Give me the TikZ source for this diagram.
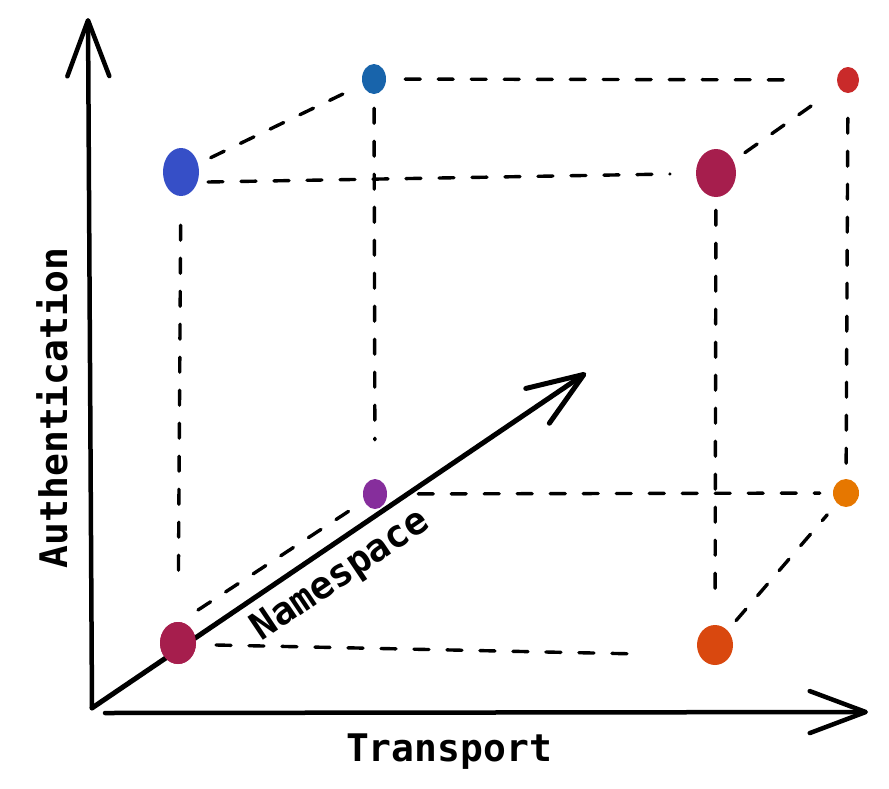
\documentclass[tikz,border=0pt]{standalone}
\usepackage{fontspec}
\setmonofont{DejaVu Sans Mono}
\usepackage{tikz}
\usetikzlibrary{arrows.meta}
\usetikzlibrary{shapes.geometric}

\definecolor{indigo}{HTML}{364FC7}
\definecolor{ocean}{HTML}{1864AB}
\definecolor{brick}{HTML}{C92A2A}
\definecolor{berry}{HTML}{A61E4D}
\definecolor{grape}{HTML}{862E9C}
\definecolor{amber}{HTML}{E67700}
\definecolor{rust}{HTML}{D9480F}

\begin{document}
\begin{tikzpicture}[x=1pt,y=-1pt,
    edge/.style={black, line width=3.4pt, dash pattern=on 15pt off 18pt, line cap=round},
    axis/.style={black, line width=4.5pt, line cap=round, -{Straight Barb[round,length=56pt,width=42pt]}},
    dot/.style={ellipse, inner sep=0pt, draw=none},
    axislabel/.style={font=\ttfamily\bfseries\fontsize{38}{40}\selectfont}]
                  \useasboundingbox (0,0) rectangle (889,788);
                  \coordinate (O) at (92,708);
                  \coordinate (T0) at (105,713);
                  \coordinate (A) at (88,18);
                  \coordinate (T) at (868,712);
                  \coordinate (N) at (586,373);
                  \coordinate (G) at (198,610);

                  % Corners of the cube (front face and back face)
                  \foreach \name/\x/\y/\w/\h/\col in {ftl/181/172/36/48/indigo, btl/374/79/24/30/ocean,
                    btr/848/80/22/26/brick, ftr/716/173/40/48/berry, bbl/375/494/24/30/grape,
                    bbr/846/493/26/28/amber, fbl/178/643/36/42/berry, fbr/715/645/36/40/rust}
                  \node[dot, fill=\col, minimum width=\w pt, minimum height=\h pt] (\name) at (\x,\y) {};

                  % Dashed edges
                  \draw[edge] ([shift={(27,10)}]ftl.center) -- ([shift={(-46,1)}]ftr.center);
                  \draw[edge, shorten <=29pt, shorten >=44pt] (ftl) -- (fbl);
                  \draw[edge, shorten <=14pt, shorten >=22pt] (ftl) -- (btl);
                  \draw[edge, shorten <=19pt, shorten >=47pt] (btl) -- (btr);
                  \draw[edge, shorten <=14pt, shorten >=39pt] (btl) -- (bbl);
                  \draw[edge, shorten <=14pt, shorten >=28pt] (ftr) -- (btr);
                  \draw[edge, shorten <=25pt, shorten >=14pt] (btr) -- (bbr);
                  \draw[edge, shorten <=13pt, shorten >=27pt] (ftr) -- (fbr);
                  \draw[edge, shorten <=31pt, shorten >=13pt] (bbl) -- (bbr);
                  \draw[edge, shorten >=12pt] (G) -- (bbl);
                  \draw[edge] ([shift={(38,2)}]fbl.center) -- ([shift={(-75,9)}]fbr.center);
                  \draw[edge, shorten <=13pt, shorten >=15pt] (fbr) -- (bbr);

                  % Axes
                  \draw[axis] (O) -- (A);
                  \draw[axis] (T0) -- (T);
                  \draw[axis, line width=5pt] (O) -- (N);

                  % Redraw the corner on the namespace axis
                  \node[dot, fill=berry, minimum width=36pt, minimum height=42pt] at (fbl) {};

                  % Axis labels
                  \node[axislabel, rotate=90] (auth) at (52,408) {Authentication};
                  \node[axislabel] (trans) at (449,752) {Transport};
                  \node[axislabel, rotate=33.9] (ns) at (341,576) {Namespace};
              \end{tikzpicture}
\end{document}
